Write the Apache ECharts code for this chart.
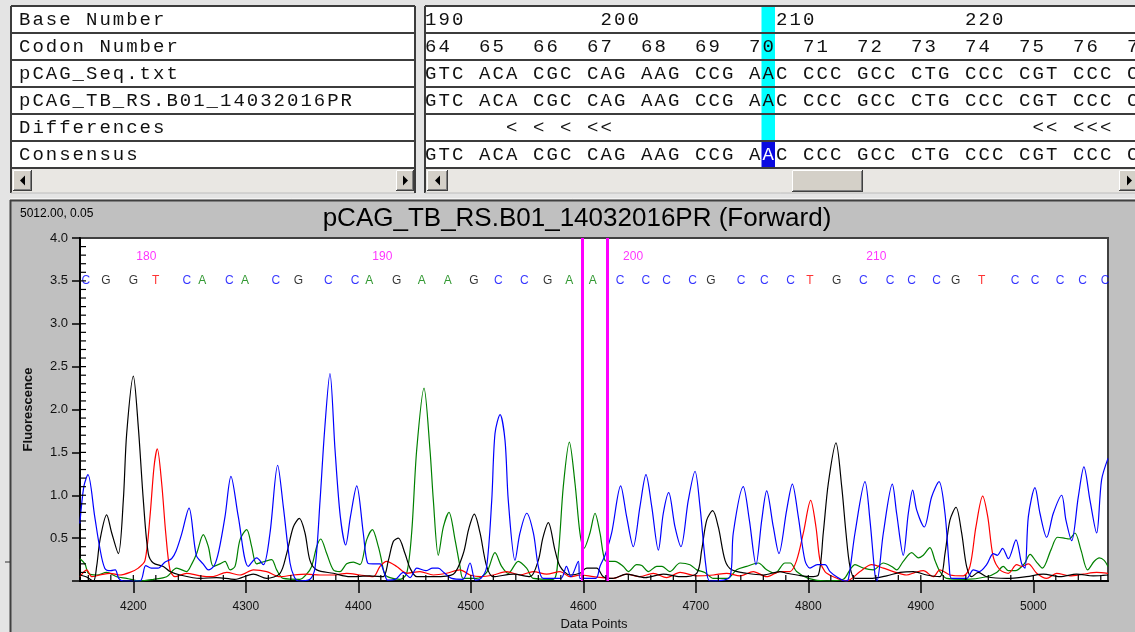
<!DOCTYPE html>
<html>
<head>
<meta charset="utf-8">
<script src="https://cdn.jsdelivr.net/npm/echarts@6/dist/echarts.min.js"></script>
<style>
  html, body { margin: 0; padding: 0; background: #e4e4e4; }
  #chart { width: 1135px; height: 632px; }
</style>
</head>
<body>
<div id="chart"></div>
<script>
// ---------- alignment table ----------
const rowLabels = ['Base Number', 'Codon Number', 'pCAG_Seq.txt', 'pCAG_TB_RS.B01_14032016PR', 'Differences', 'Consensus'];
const baseNumberRow = '190          200          210           220';
const codonRow      = '64  65  66  67  68  69  70  71  72  73  74  75  76  77';
const refSeqRow     = 'GTC ACA CGC CAG AAG CCG AAC CCC GCC CTG CCC CGT CCC C';
const readSeqRow    = 'GTC ACA CGC CAG AAG CCG AAC CCC GCC CTG CCC CGT CCC C';
const diffRow       = '      < < < <<                               << <<<';
const consensusRow  = 'GTC ACA CGC CAG AAG CCG AAC CCC GCC CTG CCC CGT CCC C';
const selectedColumn = 25;

// ---------- chromatogram ----------
const traceTitle = 'pCAG_TB_RS.B01_14032016PR (Forward)';
const cursorReadout = '5012.00, 0.05';
const xTickValues = [4200, 4300, 4400, 4500, 4600, 4700, 4800, 4900, 5000];
const cursorPositions = [4598.8, 4621];

const baseCalls = ['C','G','G','T','C','A','C','A','C','G','C','C','A','G','A','A','G','C','C','G','A','A',
  'C','C','C','C','G','C','C','C','T','G','C','C','C','C','G','T','C','C','C','C','C'];
const basePositions = [4157.7,4175.7,4200,4219.9,4247.5,4261.3,4285.3,4299.3,4326.6,4346.7,4373.3,4397.1,4409.8,
  4434.1,4456.4,4479.5,4502.8,4524.4,4547.6,4568.4,4587.6,4608.4,4632.7,4655.5,4674.1,4697.2,4713.5,4740.2,
  4760.9,4784.2,4801.5,4825.2,4848.9,4872.6,4891.9,4914.1,4931,4954.1,4983.7,5001.5,5023.7,5043.9,5063.7];
const baseNumberLabels = ['180', '190', '200', '210'];
const baseNumberIndex = [2, 12, 22, 32];

// A channel (green)
const traceA = [[4152.6,0.26],[4157,0.2],[4160,0.09],[4167.4,0.07],[4176.3,0.1],[4185.2,0.05],[4194,0.03],[4206,0],
  [4218,0.02],[4229.6,0.05],[4238.5,0.15],[4247.4,0.11],[4252,0.2],[4256.3,0.32],[4262.2,0.54],[4266.7,0.40],
  [4271.1,0.17],[4277,0.2],[4281.5,0.23],[4286,0.13],[4290.4,0.17],[4294.8,0.48],[4300.8,0.60],[4305.2,0.40],
  [4309.6,0.2],[4317,0.23],[4323,0.25],[4327.4,0.13],[4333.3,0.03],[4348.1,0.02],[4354,0.08],[4358.5,0.17],
  [4363,0.40],[4366.6,0.49],[4371.9,0.32],[4377.8,0.13],[4383.7,0.11],[4389.6,0.2],[4395.6,0.22],[4401.5,0.19],
  [4407.4,0.48],[4412.5,0.60],[4417.8,0.40],[4420.5,0.25],[4423.5,0.08],[4428.1,0.04],[4437,0.02],[4443,0.09],
  [4447.4,0.56],[4451.9,1.53],[4458.4,2.25],[4463.7,1.53],[4466.7,0.94],[4471.1,0.30],[4475.6,0.63],[4480.6,0.80],
  [4486,0.48],[4490.4,0.17],[4493.3,0.03],[4505,0.03],[4514.1,0.1],[4521.5,0.33],[4527.4,0.17],[4533.3,0.09],
  [4542.2,0.23],[4549.6,0.15],[4555.6,0.03],[4573.3,0.02],[4577.8,0.32],[4582.2,1.1],[4587.6,1.62],[4592.6,1.14],
  [4597,0.56],[4600.6,0.38],[4605.9,0.56],[4610.4,0.79],[4614.8,0.56],[4619.3,0.24],[4623.5,0.23],[4628.1,0.23],
  [4635.6,0.17],[4640,0.11],[4647.4,0.19],[4652,0.18],[4657.8,0.11],[4665.2,0.17],[4670,0.17],[4677,0.11],
  [4686,0.21],[4694.8,0.19],[4700.8,0.13],[4708,0.1],[4715.6,0.03],[4728,0.03],[4736.3,0.13],[4745.2,0.17],
  [4755.6,0.21],[4763,0.13],[4770.4,0.09],[4779.3,0.21],[4784,0.21],[4789.6,0.11],[4800,0.03],[4816.3,0],
  [4831.1,0.02],[4837,0.13],[4841.5,0.19],[4848.9,0.15],[4857.8,0.13],[4866.7,0.21],[4874.1,0.17],[4878.5,0.13],
  [4884.4,0.23],[4891.9,0.33],[4897.8,0.27],[4902.2,0.30],[4908.1,0.39],[4912.6,0.24],[4917,0.11],[4922.9,0.03],
  [4940,0.02],[4958.5,0.05],[4967.4,0.1],[4973.3,0.17],[4977.8,0.12],[4984,0.12],[4991.9,0.2],[4997.2,0.31],
  [5002.4,0.23],[5008.1,0.15],[5015.6,0.36],[5021.5,0.51],[5027.4,0.50],[5031.9,0.49],[5037,0.56],[5042.4,0.36],
  [5048.3,0.13],[5054.2,0.23],[5058.7,0.27],[5063,0.24],[5066.4,0.17]];

// C channel (blue)
const traceC = [[4152.5,0.67],[4156,1.1],[4159.7,1.24],[4165.7,0.75],[4170,0.40],[4174.6,0.15],[4180,0.12],[4184,0.13],
  [4187,0.03],[4191,0],[4206,0],[4211,0.18],[4216,0.15],[4222,0.15],[4228,0.22],[4234,0.26],[4238,0.35],[4243,0.55],
  [4249.5,0.85],[4256,0.30],[4262,0.2],[4266.7,0.13],[4272,0.18],[4276,0.35],[4281.5,0.75],[4286.8,1.22],
  [4293.3,0.75],[4302.2,0.17],[4309.7,0.27],[4315.6,0.19],[4321.5,0.56],[4328.3,1.35],[4333.3,0.87],[4339.3,0.21],
  [4343,0.05],[4347,0],[4357,0.02],[4361.5,0.15],[4366,0.94],[4370,1.75],[4374.8,2.42],[4379.3,1.53],[4384,0.75],
  [4388.8,0.42],[4393,0.75],[4398.6,1.11],[4404.4,0.56],[4408.3,0.21],[4413,0.2],[4419.3,0.2],[4423,0.1],
  [4426,0.01],[4433,0.02],[4440,0.1],[4446,0.04],[4452,0.15],[4460,0.12],[4466,0.15],[4471,0.15],[4476,0.1],
  [4483,0.03],[4493,0.02],[4499.3,0.21],[4504,0.01],[4509,0.03],[4514,0.16],[4518.6,0.94],[4521.5,1.72],
  [4526,1.94],[4530.4,1.64],[4533.3,0.94],[4539.3,0.24],[4543.7,0.56],[4549.7,0.79],[4555.6,0.56],[4560,0.17],
  [4564.4,0.03],[4580,0.03],[4585,0.17],[4589,0.05],[4595.6,0.23],[4597,0.03],[4611,0.03],[4614.8,0.17],
  [4619.3,0.30],[4625.2,0.56],[4633.2,1.11],[4638.5,0.75],[4644.4,0.40],[4650.4,0.87],[4655.7,1.24],[4660.8,0.87],
  [4666.7,0.36],[4671.1,0.79],[4675.9,1.03],[4681.5,0.63],[4686.8,0.40],[4693.3,0.94],[4699.3,1.28],[4703.7,0.87],
  [4709,0.17],[4712.6,0],[4730.4,0.05],[4733.3,0.56],[4742.2,1.10],[4747.6,0.71],[4753.5,0.19],[4758.6,0.71],
  [4763,1.05],[4768.9,0.63],[4773.9,0.32],[4780.8,0.83],[4785.8,1.13],[4791.1,0.75],[4797,0.24],[4801.5,0.15],
  [4808,0.19],[4814.8,0.19],[4819.3,0.11],[4825.2,0.05],[4832.6,0],[4835.6,0.02],[4841.5,0.56],[4850.4,1.16],
  [4854.8,0.71],[4859.3,0.07],[4861,0],[4866.7,0.56],[4874.7,1.13],[4878.5,0.79],[4884.4,0.30],[4888.9,0.79],
  [4892.8,1.06],[4896.3,0.83],[4903.1,0.63],[4909.6,0.98],[4916.2,1.16],[4921.5,0.79],[4925.3,0.17],[4927.4,0.03],
  [4940.7,0.03],[4946.7,0.13],[4952,0.11],[4958.5,0.19],[4964.4,0.32],[4968,0.3],[4972.7,0.38],[4977.8,0.26],
  [4984.6,0.48],[4989.7,0.2],[4992.6,0.15],[4995.6,0.75],[5001.5,1.09],[5005.9,0.79],[5011.9,0.51],[5017.8,0.79],
  [5025.2,1.0],[5029,0.71],[5034.1,0.47],[5040,0.98],[5045,1.33],[5050.4,0.94],[5056.3,0.56],[5060.7,1.18],
  [5066.4,1.43]];

// G channel (black)
const traceG = [[4152.6,0.07],[4158,0.05],[4164.5,0],[4167.4,0.17],[4170.4,0.48],[4176.3,0.77],[4180.8,0.56],
  [4186.7,0.32],[4191.1,0.94],[4194.1,1.72],[4200,2.39],[4204.4,1.80],[4208.9,0.94],[4213.3,0.32],[4217.8,0.21],
  [4226.7,0.17],[4232.6,0.11],[4241.5,0.07],[4259.3,0.03],[4274,0.04],[4290,0.02],[4306.7,0.08],[4318.5,0.03],
  [4330.4,0.09],[4336.3,0.32],[4342.2,0.63],[4347.6,0.73],[4352.6,0.56],[4357,0.24],[4363,0.13],[4377.8,0.09],
  [4392.6,0.05],[4410,0.06],[4422,0.05],[4426.7,0.24],[4431.1,0.46],[4435.6,0.50],[4441.5,0.32],[4446,0.15],
  [4452,0.05],[4467,0.05],[4484.4,0.08],[4493.3,0.32],[4498,0.6],[4503.1,0.78],[4508.2,0.56],[4514.1,0.17],
  [4520,0.05],[4537.8,0.08],[4552.6,0.05],[4560,0.24],[4564,0.5],[4568.9,0.68],[4574.8,0.36],[4579.3,0.17],
  [4588,0.07],[4597,0.09],[4603,0.15],[4611.9,0.15],[4617.8,0.05],[4626,0.03],[4638.5,0.08],[4655,0.04],
  [4671.1,0.08],[4686,0.05],[4700.8,0.09],[4705.2,0.36],[4709.7,0.71],[4715,0.82],[4720,0.63],[4726,0.24],
  [4731.9,0.13],[4745.2,0.09],[4760,0.07],[4774.8,0.11],[4780.8,0.09],[4790,0.07],[4801.5,0.05],[4808.9,0.07],
  [4813.3,0.56],[4817.8,1.14],[4824.6,1.61],[4829.7,1.10],[4833.5,0.56],[4837,0.17],[4841.5,0.03],[4855,0.03],
  [4869.6,0.06],[4881.5,0.10],[4893.3,0.11],[4905.2,0.07],[4917,0.05],[4921.5,0.32],[4925.9,0.71],[4931.3,0.86],
  [4936.3,0.56],[4940.7,0.17],[4945.2,0.05],[4951.1,0.10],[4958.5,0.05],[4976.3,0.03],[4994,0.05],[5008.9,0.08],
  [5023.7,0.05],[5038.5,0.08],[5053.3,0.06],[5066.4,0.07]];

// T channel (red)
const traceT = [[4152.6,0.05],[4158.6,0.13],[4163,0.05],[4170.4,0.07],[4179.3,0.09],[4188,0.07],[4197,0.1],
  [4204.4,0.15],[4210.4,0.24],[4214.8,0.75],[4218.4,1.33],[4221.3,1.54],[4225.2,1.14],[4228.8,0.56],[4232.6,0.13],
  [4237,0.05],[4247.4,0.09],[4259.3,0.06],[4270,0.05],[4283,0.1],[4294.8,0.07],[4306.7,0.13],[4318.5,0.11],
  [4330.4,0.05],[4342.2,0.07],[4354,0.08],[4366,0.07],[4378,0.07],[4389.7,0.09],[4401.5,0.07],[4413.3,0.05],
  [4419.3,0.17],[4425.2,0.23],[4434.1,0.17],[4443,0.09],[4454.8,0.11],[4466.7,0.07],[4478.5,0.09],[4490.4,0.13],
  [4499.3,0.07],[4509,0.05],[4520,0.07],[4531.9,0.11],[4543.7,0.07],[4555.6,0.11],[4567.4,0.08],[4579.3,0.11],
  [4588.1,0.05],[4598,0.07],[4608.9,0.05],[4626.7,0.03],[4638.5,0.08],[4650,0.05],[4662.2,0.09],[4674.1,0.04],
  [4686,0.1],[4700.8,0.06],[4715.6,0.07],[4727.4,0.09],[4739.3,0.06],[4751.1,0.11],[4763,0.05],[4774.8,0.11],
  [4783.7,0.11],[4789.6,0.24],[4795.6,0.56],[4802.1,0.94],[4806.8,0.63],[4810.4,0.24],[4814.8,0.11],[4822.2,0.05],
  [4834.1,0],[4846,0.11],[4856.3,0.19],[4866.7,0.15],[4875.6,0.11],[4887.4,0.07],[4895,0.1],[4902.2,0.12],
  [4911.1,0.05],[4917,0.13],[4925.9,0.07],[4937.8,0.06],[4943.7,0.17],[4949,0.63],[4955,0.99],[4959.5,0.75],
  [4964.4,0.28],[4970.4,0.13],[4977.8,0.09],[4985.2,0.19],[4990,0.17],[4995.6,0.2],[5003,0.09],[5011.9,0.03],
  [5020.7,0.09],[5032.6,0.06],[5044.4,0.08],[5056.3,0.1],[5066.4,0.09]];

// ---------- drawing ----------
const baseColor = { A: '#008000', C: '#0000ff', G: '#000000', T: '#ff0000' };
const SANS = '"Liberation Sans", Arial, sans-serif';
const MONO = '"Liberation Mono", "DejaVu Sans Mono", monospace';

const gfx = [];
function rect(x, y, w, h, fill, z) {
  gfx.push({ type: 'rect', silent: true, z: z || 0, shape: { x, y, width: w, height: h }, style: { fill } });
}
function seg(x1, y1, x2, y2, stroke, lw, z) {
  gfx.push({ type: 'line', silent: true, z: z || 1, shape: { x1, y1, x2, y2 }, style: { stroke, lineWidth: lw } });
}
function label(x, y, t, font, fill, align, z) {
  gfx.push({ type: 'text', silent: true, z: z || 2, x, y,
    style: { text: t, font, fill, align: align || 'left', textAlign: align || 'left',
             verticalAlign: 'middle', textVerticalAlign: 'middle' } });
}
function tri(points, z) {
  gfx.push({ type: 'polygon', silent: true, z: z || 3, shape: { points }, style: { fill: '#000' } });
}
function button(x, y, w, h) {
  rect(x, y, w, h, '#d4d0c8', 1);
  seg(x + 0.5, y + 0.5, x + w - 0.5, y + 0.5, '#ffffff', 1, 2);
  seg(x + 0.5, y + 0.5, x + 0.5, y + h - 0.5, '#ffffff', 1, 2);
  seg(x, y + h - 0.5, x + w, y + h - 0.5, '#404040', 1, 2);
  seg(x + w - 0.5, y, x + w - 0.5, y + h, '#404040', 1, 2);
  seg(x + 1, y + h - 1.5, x + w - 1, y + h - 1.5, '#808080', 1, 2);
  seg(x + w - 1.5, y + 1, x + w - 1.5, y + h - 1, '#808080', 1, 2);
}

// window background
rect(0, 0, 1135, 632, '#e4e4e4', -20);

// table panels
const rowTop = 6, rowH = 27, rows = 6;
const scrollTop = rowTop + rows * rowH;        // 168
const panelBottom = scrollTop + 25;
const leftX0 = 11, leftX1 = 415, rightX0 = 425, rightX1 = 1136;
const cellX0 = 424, cellW = 13.5, leftCellW = 13.4;

[[leftX0, leftX1], [rightX0, rightX1]].forEach(([a, b]) => {
  rect(a, rowTop, b - a, scrollTop - rowTop, '#ffffff', -5);
  rect(a, scrollTop, b - a, panelBottom - scrollTop, '#e9e7e3', -5);
  for (let r = 0; r <= rows; r++) seg(a, rowTop + r * rowH, b, rowTop + r * rowH, '#3c3c3c', 2, 4);
  seg(a, rowTop, a, panelBottom, '#3c3c3c', 2, 4);
  seg(a, panelBottom, b, panelBottom, '#bcbcbc', 1, 4);
});
seg(leftX1, rowTop, leftX1, panelBottom, '#3c3c3c', 2, 4);

// highlighted column
const selX = cellX0 + selectedColumn * cellW;
rect(selX, rowTop, cellW, 5 * rowH, '#00ffff', -1);
rect(selX, rowTop + 5 * rowH + 1, cellW, rowH - 1, '#0a0ae0', -1);

// row captions
rowLabels.forEach((t, r) => {
  const cy = rowTop + r * rowH + 14;
  for (let i = 0; i < t.length; i++) {
    if (t[i] !== ' ') label(18 + (i + 0.5) * leftCellW, cy, t[i], '19px ' + MONO, '#111', 'center');
  }
});

// alignment rows
[baseNumberRow, codonRow, refSeqRow, readSeqRow, diffRow, consensusRow].forEach((t, r) => {
  const cy = rowTop + r * rowH + 14;
  for (let i = 0; i < t.length; i++) {
    if (t[i] === ' ') continue;
    const white = (r === 5 && i === selectedColumn);
    label(cellX0 + (i + 0.5) * cellW, cy, t[i], '19px ' + MONO, white ? '#ffffff' : '#111', 'center');
  }
});

// scroll bars
button(13, 170, 19, 21);
tri([[25, 175.5], [25, 185.5], [20, 180.5]]);
button(396, 170, 18, 21);
tri([[403, 175.5], [403, 185.5], [408, 180.5]]);
button(427, 170, 21, 21);
tri([[440, 175.5], [440, 185.5], [435, 180.5]]);
button(792, 170, 71, 22);
button(1119, 170, 20, 21);
tri([[1127, 175.5], [1127, 185.5], [1132, 180.5]]);

// chart panel
rect(10, 200, 1125, 432, '#c0c0c0', -10);
seg(10, 198.5, 1135, 198.5, '#f4f4f4', 1, -9);
seg(10, 200.5, 1135, 200.5, '#404040', 2, -9);
seg(10.5, 200, 10.5, 632, '#404040', 2, -9);
seg(5, 562, 10, 562, '#303030', 1, -9);

// readout and title
label(20, 214, cursorReadout, '12px ' + SANS, '#000', 'left');
label(577, 219, traceTitle, '26px ' + SANS, '#000', 'center');

// inner tick marks: every 20 data points along x, every 0.1 along y
const xMinorTicks = [];
for (let v = 4160; v <= 5060; v += 20) xMinorTicks.push(v);
const yMinorTicks = [];
for (let k = 1; k < 40; k++) yMinorTicks.push(k / 10);

const xMin = 4152.6, xMax = 5066.4;

const callData = baseCalls.map((b, i) => ({
  name: b, value: [basePositions[i], 3.5],
  label: { color: baseColor[b] }
}));
const numberData = baseNumberLabels.map((t, i) => ({
  name: t, value: [basePositions[baseNumberIndex[i]], 3.78]
}));

function traceSeries(name, data, color, z) {
  return {
    name, type: 'line', data, xAxisIndex: 0, yAxisIndex: 0,
    showSymbol: false, symbol: 'none', smooth: 0.3, clip: true, z,
    lineStyle: { color, width: 1.2 }, silent: true, animation: false
  };
}

// short tick marks pointing into the plot, placed through the axis scales
function innerTicks(values, horizontal) {
  return {
    type: 'custom', silent: true, z: 6, clip: false, animation: false,
    data: values.map(v => (horizontal ? [v, 0] : [xMin, v])),
    renderItem: (params, api) => {
      const p = api.coord([api.value(0), api.value(1)]);
      const shape = horizontal
        ? { x1: p[0], y1: p[1], x2: p[0], y2: p[1] - 6 }
        : { x1: p[0], y1: p[1], x2: p[0] + 6, y2: p[1] };
      return { type: 'line', shape, style: { stroke: '#000', lineWidth: 1.2 } };
    }
  };
}

const chart = echarts.init(document.getElementById('chart'), null, { renderer: 'canvas' });
chart.setOption({
  animation: false,
  backgroundColor: 'transparent',
  grid: {
    left: 80, right: 27, top: 238, bottom: 51, outerBoundsMode: 'none', containLabel: false,
    show: true, backgroundColor: '#ffffff', borderColor: '#404040', borderWidth: 2
  },
  xAxis: {
    type: 'value', min: xMin, max: xMax, position: 'bottom',
    name: 'Data Points', nameLocation: 'middle', nameGap: 33,
    nameTextStyle: { fontFamily: SANS, fontSize: 13, color: '#111' },
    axisLine: { show: true, onZero: false, lineStyle: { color: '#000', width: 2 } },
    axisTick: { show: true, inside: false, length: 12, customValues: xTickValues, lineStyle: { color: '#000', width: 1.5 } },
    axisLabel: { show: true, margin: 20, customValues: xTickValues, fontFamily: SANS, fontSize: 12, color: '#111',
      formatter: v => String(Math.round(v)) },
    splitLine: { show: false }
  },
  yAxis: {
    type: 'value', min: 0, max: 4, interval: 0.5,
    name: 'Fluorescence', nameLocation: 'middle', nameRotate: 90, nameGap: 45,
    nameTextStyle: { fontFamily: SANS, fontSize: 13, fontWeight: 'bold', color: '#111' },
    axisLine: { show: true, onZero: false, lineStyle: { color: '#000', width: 2 } },
    axisTick: { show: true, inside: false, length: 8, lineStyle: { color: '#000', width: 1.5 } },
    axisLabel: { show: true, margin: 12, fontFamily: SANS, fontSize: 13, color: '#111',
      formatter: v => (v === 0 ? '' : v.toFixed(1)) },
    splitLine: { show: false }
  },
  graphic: gfx,
  series: [
    traceSeries('A', traceA, '#008000', 2),
    traceSeries('T', traceT, '#ff0000', 2),
    traceSeries('G', traceG, '#000000', 2),
    traceSeries('C', traceC, '#0000ff', 2),
    innerTicks(xMinorTicks, true),
    innerTicks(yMinorTicks, false),
    {
      name: 'calls', type: 'scatter', data: callData, symbolSize: 0, z: 4, silent: true,
      label: { show: true, position: 'inside', formatter: p => p.name, fontFamily: SANS, fontSize: 12 },
      markLine: {
        silent: true, symbol: ['none', 'none'], label: { show: false },
        lineStyle: { color: '#ff00ff', width: 3, type: 'solid' },
        data: cursorPositions.map(v => ({ xAxis: v }))
      }
    },
    {
      name: 'numbers', type: 'scatter', data: numberData, symbolSize: 0, z: 4, silent: true,
      label: { show: true, position: 'inside', offset: [13, 0], formatter: p => p.name,
        fontFamily: SANS, fontSize: 12, color: '#ff00ff' }
    }
  ]
});
</script>
</body>
</html>
